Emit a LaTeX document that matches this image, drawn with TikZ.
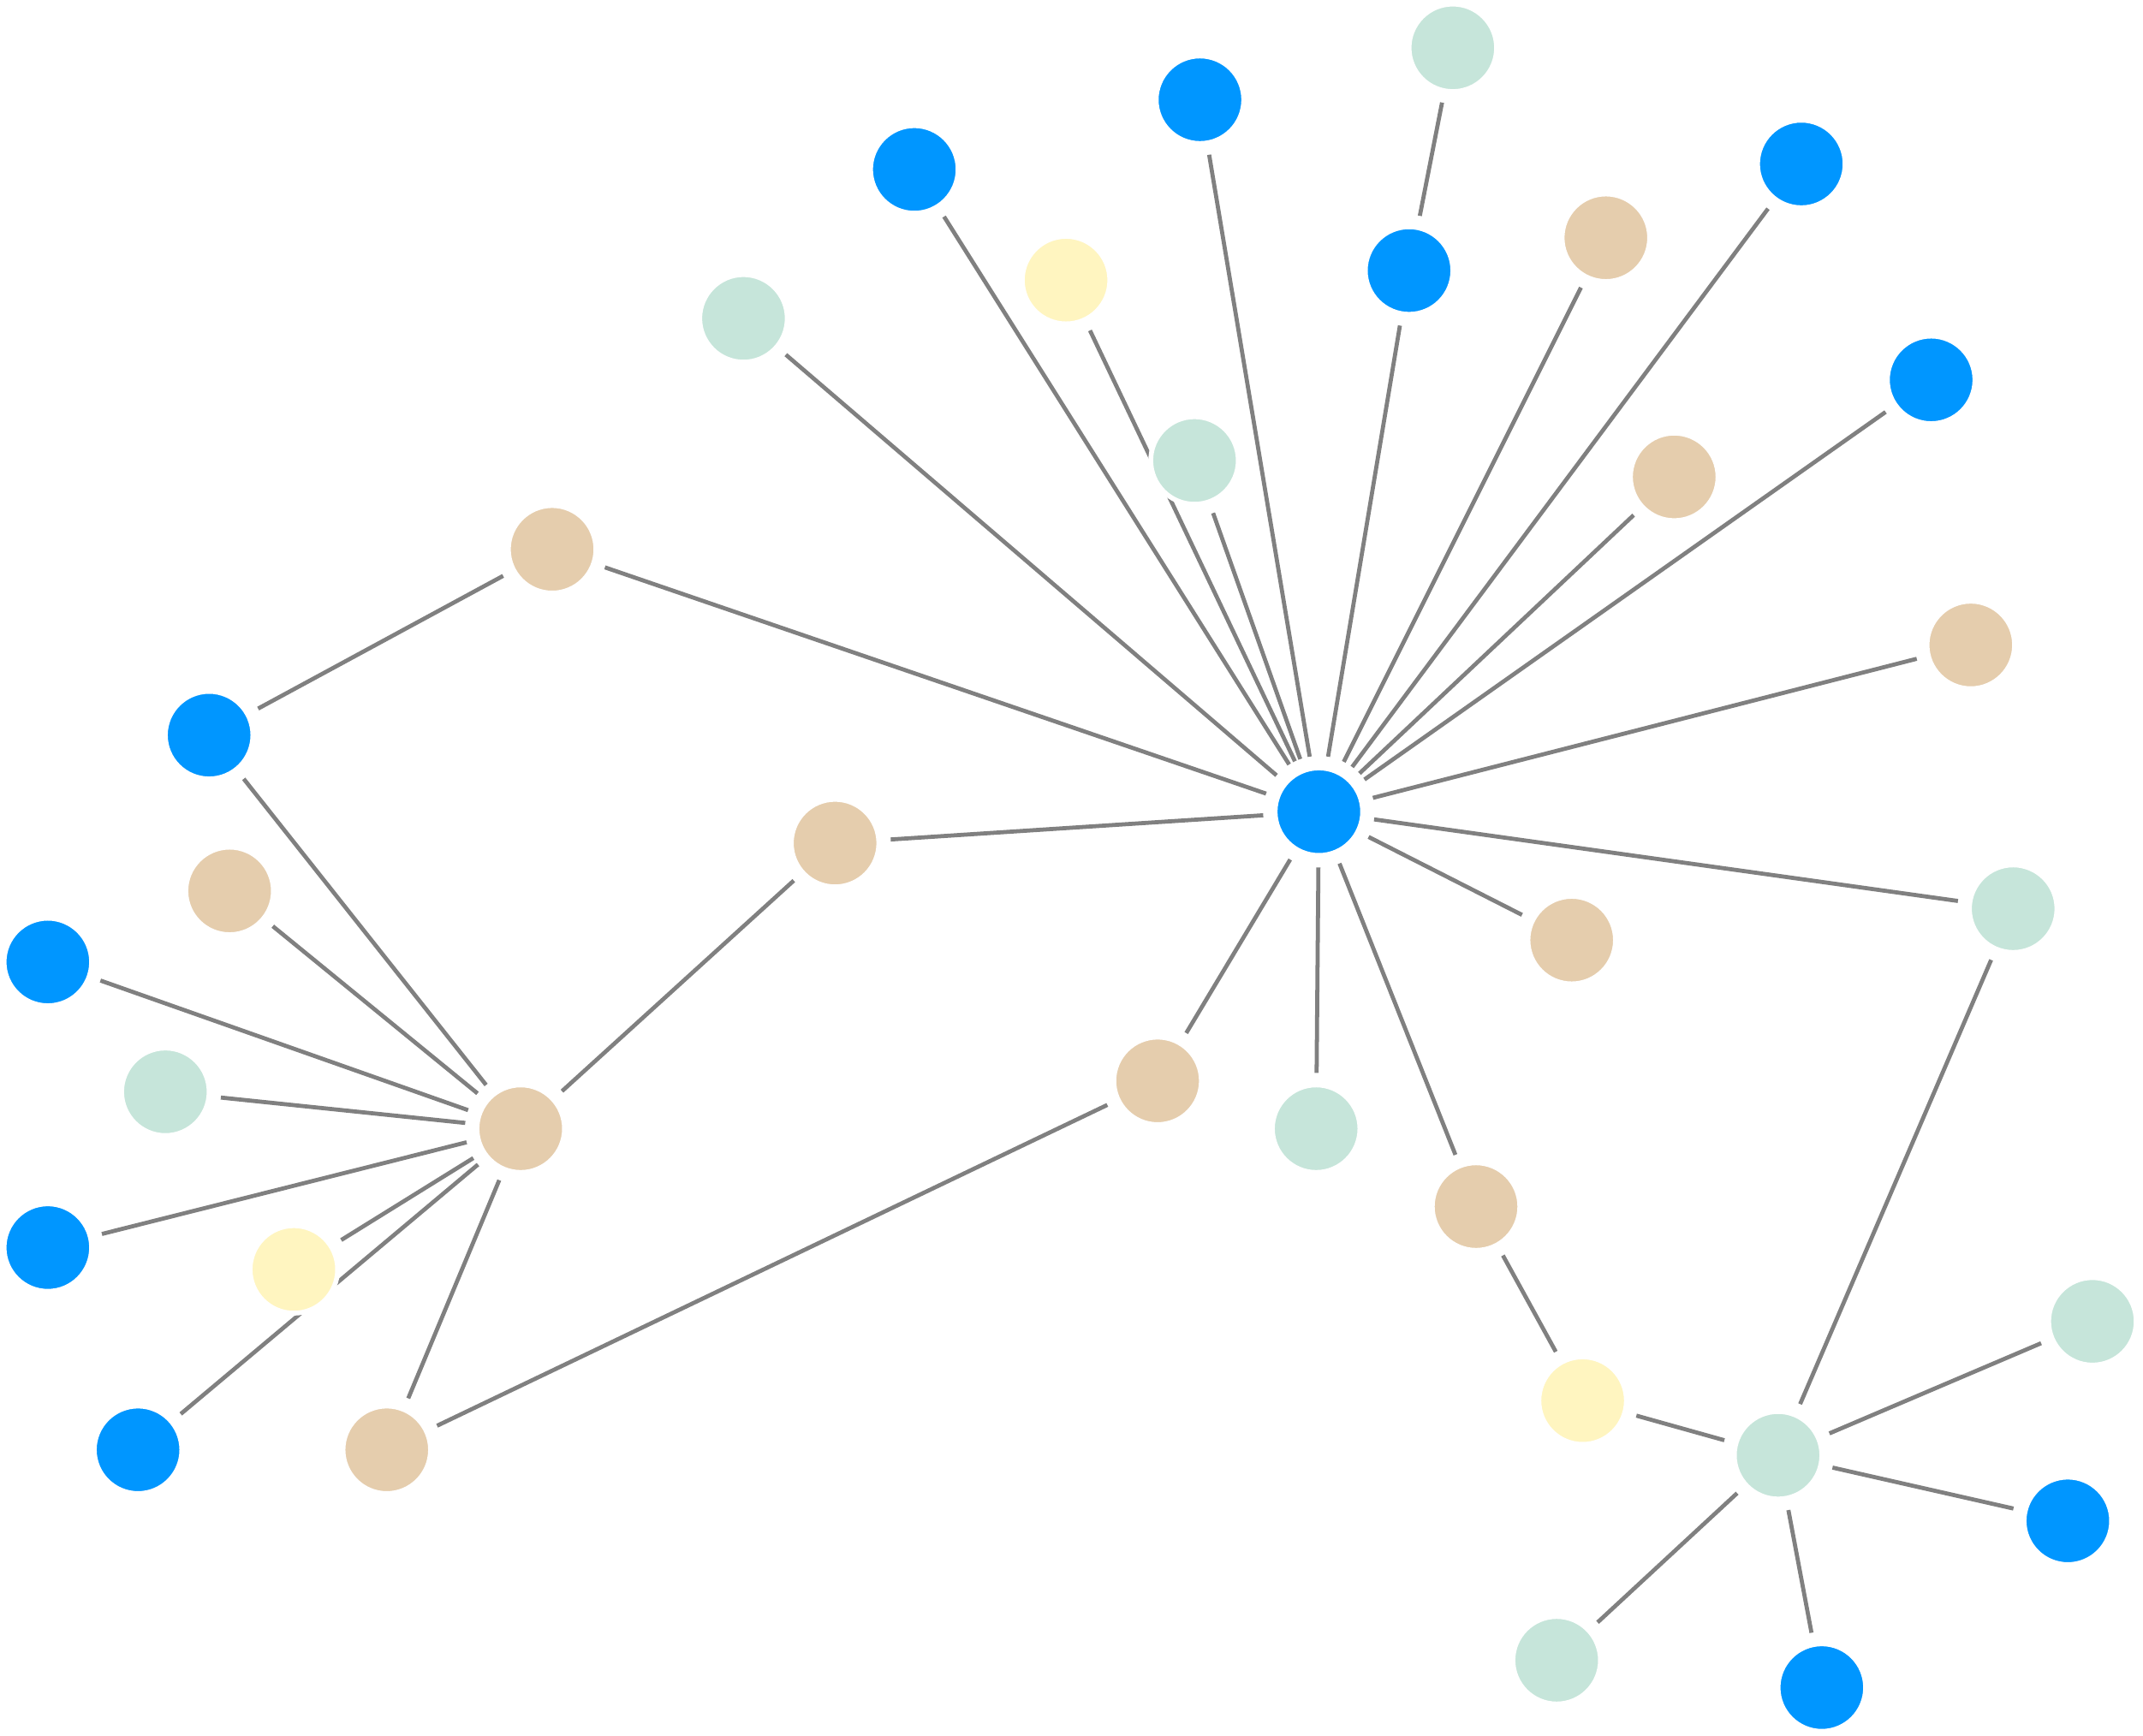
\documentclass[tikz,border=0pt]{standalone}
\usetikzlibrary{backgrounds}
\definecolor{cb}{HTML}{0096FF}
\definecolor{cm}{HTML}{C6E5DA}
\definecolor{ct}{HTML}{E5CDAD}
\definecolor{cy}{HTML}{FFF5C0}
\definecolor{eg}{HTML}{808080}
\tikzset{nd/.style={circle,minimum size=0.64cm,inner sep=0pt,draw=white,line width=1pt,outer sep=2.5pt},
nb/.style={nd,fill=cb},nm/.style={nd,fill=cm},nt/.style={nd,fill=ct},ny/.style={nd,fill=cy},
ed/.style={draw=eg,line width=0.85pt}}
\begin{document}
\begin{tikzpicture}[x=0.01cm,y=-0.01cm]
\useasboundingbox (0,0) rectangle (1568,1270);
\node[nb] (C) at (965,594) {};
\node[nm] (n1) at (1063,35) {};
\node[nb] (n2) at (878,73) {};
\node[nb] (n3) at (669,124) {};
\node[nb] (n4) at (1318,120) {};
\node[nb] (n5) at (1031,198) {};
\node[nt] (n6) at (1175,174) {};
\node[ny] (n7) at (780,205) {};
\node[nm] (n8) at (544,233) {};
\node[nb] (n9) at (1413,278) {};
\node[nt] (n11) at (1225,349) {};
\node[nt] (n12) at (404,402) {};
\node[nt] (n13) at (1442,472) {};
\node[nb] (n14) at (153,538) {};
\node[nt] (n15) at (611,617) {};
\node[nt] (n16) at (168,652) {};
\node[nm] (n17) at (1473,665) {};
\node[nt] (n18) at (1150,688) {};
\node[nb] (n19) at (35,704) {};
\node[nt] (n20) at (847,791) {};
\node[nm] (n21) at (121,799) {};
\node[nt] (n22) at (381,826) {};
\node[nm] (n23) at (963,826) {};
\node[nt] (n24) at (1080,883) {};
\node[nb] (n25) at (35,913) {};
\node[nm] (n27) at (1531,967) {};
\node[ny] (n28) at (1158,1025) {};
\node[nb] (n29) at (101,1061) {};
\node[nt] (n30) at (283,1061) {};
\node[nm] (n31) at (1301,1065) {};
\node[nb] (n32) at (1513,1113) {};
\node[nm] (n33) at (1139,1215) {};
\node[nb] (n34) at (1333,1235) {};
\node[nm] (n10) at (874,337) {};
\node[ny] (n26) at (215,929) {};
\begin{scope}[on background layer]
\foreach \a/\z in {C/n2,C/n3,C/n5,n5/n1,C/n6,C/n4,C/n11,C/n9,C/n13,C/n17,C/n18,C/n24,C/n23,C/n20,C/n15,C/n12,C/n8,C/n10,C/n7,n12/n14,n14/n22,n16/n22,n19/n22,n21/n22,n25/n22,n26/n22,n29/n22,n30/n22,n15/n22,n20/n30,n24/n28,n28/n31,n17/n31,n27/n31,n32/n31,n34/n31,n33/n31}
  \draw[ed] (\a) -- (\z);
\end{scope}
\end{tikzpicture}
\end{document}
